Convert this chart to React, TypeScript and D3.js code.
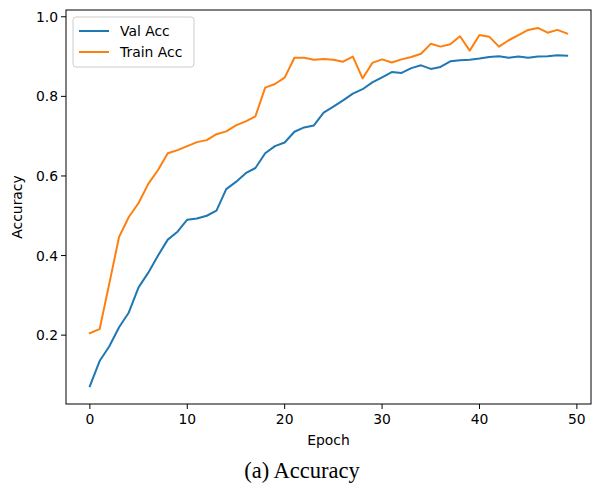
import React from "react";
import * as d3 from "d3";

const valAcc = [
  0.072, 0.135, 0.172, 0.22, 0.257, 0.32, 0.357, 0.4, 0.44, 0.46,
  0.49, 0.493, 0.5, 0.513, 0.567, 0.585, 0.607, 0.62, 0.657, 0.675,
  0.684, 0.711, 0.722, 0.727, 0.759, 0.774, 0.79, 0.807, 0.818, 0.835,
  0.848, 0.861, 0.859, 0.871, 0.878, 0.869, 0.874, 0.888, 0.891, 0.892,
  0.895, 0.899, 0.901, 0.897, 0.9, 0.897, 0.9, 0.901, 0.903, 0.902,
];
const trainAcc = [
  0.205, 0.215, 0.33, 0.447, 0.497, 0.532, 0.58, 0.615, 0.657, 0.665,
  0.675, 0.685, 0.69, 0.705, 0.712, 0.727, 0.737, 0.75, 0.822, 0.831,
  0.847, 0.897, 0.897, 0.892, 0.894, 0.892, 0.887, 0.9, 0.845, 0.884,
  0.893, 0.885, 0.893, 0.899, 0.907, 0.932, 0.925, 0.931, 0.951, 0.915,
  0.954, 0.95, 0.925, 0.941, 0.954, 0.967, 0.972, 0.96, 0.967, 0.958,
];
const xTicks = [0, 10, 20, 30, 40, 50];
const yTicks = [0.2, 0.4, 0.6, 0.8, 1.0];
const seriesNames = ["Val Acc", "Train Acc"];
const colors = ["#1f77b4", "#ff7f0e"];

const W = 592;
const H = 484;
const left = 66;
const right = 591;
const top = 10;
const bottom = 404;

export default function App() {
  const n = valAcc.length;
  const all = [...valAcc, ...trainAcc];
  const yMin = d3.min(all)!;
  const yMax = d3.max(all)!;
  const yPad = (yMax - yMin) * 0.05;
  const xPad = (n - 1) * 0.05;
  const x = d3.scaleLinear().domain([-xPad, n - 1 + xPad]).range([left, right]);
  const y = d3.scaleLinear().domain([yMin - yPad, yMax + yPad]).range([bottom, top]);
  const line = d3
    .line<number>()
    .x((_, i) => x(i))
    .y((d) => y(d));
  const font = "DejaVu Sans, sans-serif";
  const fs = 13.9;
  const series = [valAcc, trainAcc];

  return (
    <svg
      width={W}
      height={H}
      style={{ position: "absolute", left: 0, top: 0, background: "#fff" }}
    >
      <rect x={0} y={0} width={W} height={H} fill="#fff" />
      {series.map((s, k) => (
        <path
          key={k}
          d={line(s) || ""}
          fill="none"
          stroke={colors[k]}
          strokeWidth={2}
          strokeLinejoin="round"
          strokeLinecap="square"
        />
      ))}
      <rect
        x={left}
        y={top}
        width={right - left}
        height={bottom - top}
        fill="none"
        stroke="#000"
        strokeWidth={1}
      />
      {xTicks.map((t) => (
        <g key={t}>
          <line x1={x(t)} x2={x(t)} y1={bottom} y2={bottom + 5} stroke="#000" />
          <text
            x={x(t)}
            y={bottom + 20}
            textAnchor="middle"
            fontFamily={font}
            fontSize={fs}
            fill="#000"
          >
            {t}
          </text>
        </g>
      ))}
      {yTicks.map((t) => (
        <g key={t}>
          <line x1={left - 5} x2={left} y1={y(t)} y2={y(t)} stroke="#000" />
          <text
            x={left - 8}
            y={y(t) + 5}
            textAnchor="end"
            fontFamily={font}
            fontSize={fs}
            fill="#000"
          >
            {t.toFixed(1)}
          </text>
        </g>
      ))}
      <text
        x={(left + right) / 2}
        y={445}
        textAnchor="middle"
        fontFamily={font}
        fontSize={fs}
        fill="#000"
      >
        Epoch
      </text>
      <text
        transform={`translate(22,${(top + bottom) / 2}) rotate(-90)`}
        textAnchor="middle"
        fontFamily={font}
        fontSize={fs}
        fill="#000"
      >
        Accuracy
      </text>
      <g>
        <rect
          x={73}
          y={17}
          width={121}
          height={50}
          rx={3}
          fill="#fff"
          fillOpacity={0.8}
          stroke="#cccccc"
        />
        {seriesNames.map((name, k) => (
          <g key={name}>
            <line
              x1={79}
              x2={109}
              y1={31 + k * 21}
              y2={31 + k * 21}
              stroke={colors[k]}
              strokeWidth={2}
            />
            <text
              x={120}
              y={31 + k * 21 + 5}
              fontFamily={font}
              fontSize={fs}
              fill="#000"
            >
              {name}
            </text>
          </g>
        ))}
      </g>
      <text
        x={302}
        y={478}
        textAnchor="middle"
        fontFamily="Liberation Serif, Times New Roman, serif"
        fontSize={22.5}
        fill="#000"
      >
        (a) Accuracy
      </text>
    </svg>
  );
}
